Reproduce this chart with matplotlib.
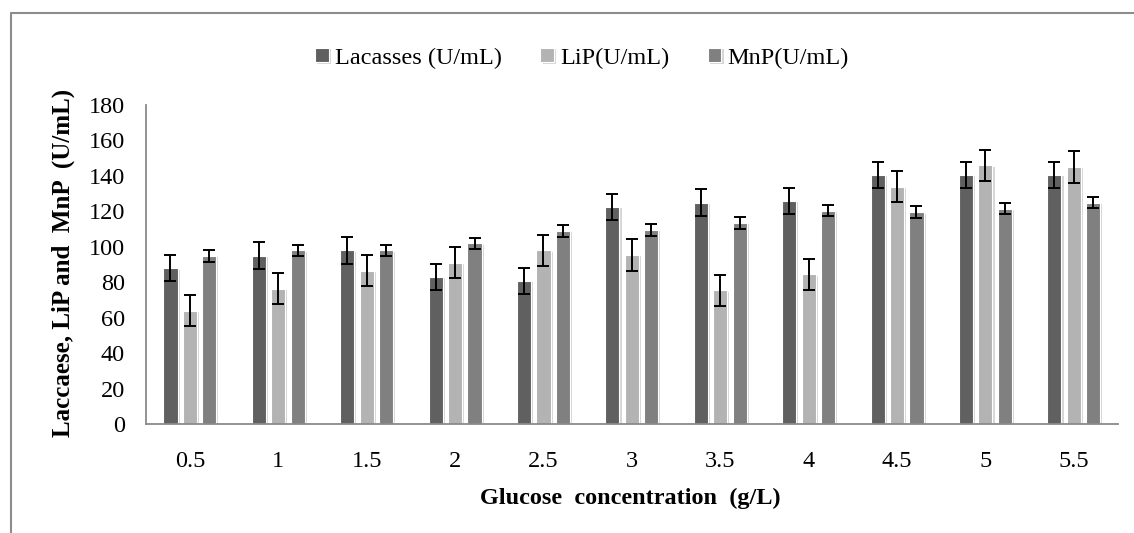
import matplotlib
matplotlib.use("Agg")
import matplotlib.pyplot as plt
import matplotlib.patheffects as pe
from matplotlib.lines import Line2D
import numpy as np

plt.rcParams["font.family"] = ["Liberation Serif", "DejaVu Serif"]

# Glucose concentrations (g/L)
categories = ["0.5", "1", "1.5", "2", "2.5", "3", "3.5", "4", "4.5", "5", "5.5"]

# Enzyme activities (U/mL) and their error bars
laccase = [88, 95, 98, 83, 81, 122.5, 125, 126, 140.5, 140.5, 140.5]
laccase_err = [7.4, 7.5, 7.5, 7.4, 7.3, 7.3, 7.4, 7.3, 7.4, 7.4, 7.4]

lip = [64, 76.5, 86.5, 91, 98, 95.5, 75.5, 84.5, 134, 146, 145]
lip_err = [8.8, 8.7, 8.7, 8.8, 8.7, 8.8, 8.7, 8.6, 8.8, 8.8, 8.8]

mnp = [95, 98, 98, 102, 109, 109.5, 113.5, 120.5, 119.5, 121.5, 125]
mnp_err = [3.3, 3.3, 3.3, 3.3, 3.3, 3.2, 3.2, 3.3, 3.3, 3.2, 3.3]

series = [
    ("Lacasses (U/mL)", laccase, laccase_err, "#606060"),
    ("LiP(U/mL)", lip, lip_err, "#b3b3b3"),
    ("MnP(U/mL)", mnp, mnp_err, "#808080"),
]

W, H = 1134, 533
fig = plt.figure(figsize=(W / 100, H / 100), dpi=100)
ax = fig.add_axes([145.7 / W, 1 - 424.3 / H, (1118 - 145.7) / W, (424.3 - 105) / H])

x = np.arange(len(categories))
offsets = [-0.22, 0.0, 0.22]
bar_w = 0.16
shadow = [pe.SimplePatchShadow(offset=(1.5, -1.0), shadow_rgbFace="0.55", alpha=0.35), pe.Normal()]

handles = []
for (label, vals, errs, color), off in zip(series, offsets):
    bars = ax.bar(x + off, vals, width=bar_w, color=color, edgecolor="white",
                  linewidth=0.8, label=label, zorder=2)
    for b in bars:
        b.set_path_effects(shadow)
    ax.errorbar(x + off, vals, yerr=errs, fmt="none", ecolor="black",
                elinewidth=1.4, capsize=4.6, capthick=1.4, zorder=3)
    handles.append(bars)

ax.set_xlim(-0.5, len(categories) - 0.5)
ax.set_ylim(0, 180)
ax.set_yticks(np.arange(0, 181, 20))
ax.set_xticks(x)
ax.set_xticklabels(categories)

for side in ("top", "right"):
    ax.spines[side].set_visible(False)
for side in ("left", "bottom"):
    ax.spines[side].set_color("#8a8a8a")
    ax.spines[side].set_linewidth(1.3)

ax.tick_params(axis="both", length=0, labelsize=17.5, colors="black")
ax.tick_params(axis="y", pad=15)
ax.tick_params(axis="x", pad=19)

fig.text(630 / W, 1 - 498 / H, "Glucose  concentration  (g/L)", ha="center", va="center",
         fontsize=17.5, fontweight="bold")
fig.text(63 / W, 1 - 263 / H, "Laccaese, LiP and  MnP  (U/mL)", ha="center", va="center",
         rotation=90, fontsize=18, fontweight="bold")

fig.legend(handles=handles, labels=[s[0] for s in series], loc="center",
           bbox_to_anchor=(582 / W, 1 - 58 / H), ncol=3, frameon=False,
           fontsize=17.5, handlelength=0.55, handleheight=0.55, handletextpad=0.25,
           columnspacing=1.6, borderpad=0)

# outer frame around the chart area
fig.add_artist(Line2D([11 / W, 11 / W, 1], [0, 1 - 13 / H, 1 - 13 / H],
                      transform=fig.transFigure, color="#8c8c8c", linewidth=1.5))

fig.savefig("out.png", dpi=100, facecolor="white")
